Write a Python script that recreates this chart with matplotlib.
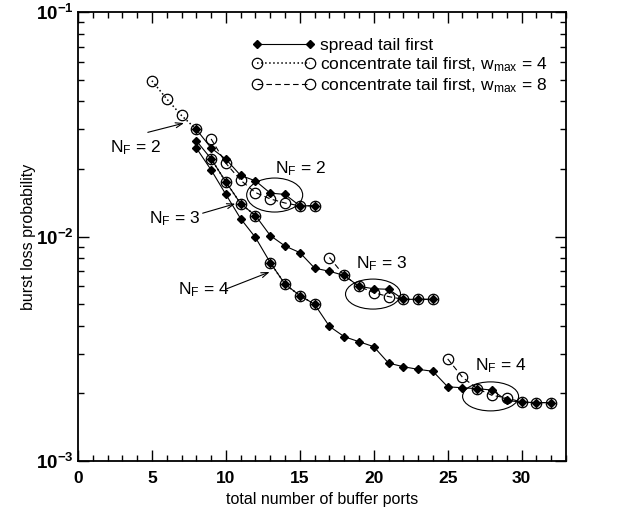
import matplotlib
matplotlib.use("Agg")
import matplotlib.pyplot as plt
import matplotlib.transforms as mtransforms
from matplotlib.patches import Ellipse
from matplotlib.ticker import MultipleLocator, LogLocator, FuncFormatter, NullFormatter
import numpy as np

plt.rcParams['font.family'] = ['Liberation Sans', 'DejaVu Sans']
plt.rcParams['mathtext.fontset'] = 'custom'
plt.rcParams['mathtext.rm'] = 'Liberation Sans'
plt.rcParams['mathtext.bf'] = 'Liberation Sans:bold'
plt.rcParams['mathtext.default'] = 'regular'

# spread tail first
spread2_x = list(range(8, 17))
spread2_y = [3.00e-2, 2.48e-2, 2.21e-2, 1.87e-2, 1.77e-2, 1.56e-2, 1.54e-2, 1.37e-2, 1.37e-2]
spread3_x = list(range(8, 25))
spread3_y = [2.67e-2, 2.22e-2, 1.75e-2, 1.40e-2, 1.24e-2, 1.01e-2, 9.07e-3, 8.48e-3, 7.23e-3,
             7.00e-3, 6.71e-3, 6.00e-3, 5.85e-3, 5.82e-3, 5.25e-3, 5.25e-3, 5.25e-3]
spread4_x = list(range(8, 33))
spread4_y = [2.48e-2, 1.98e-2, 1.54e-2, 1.20e-2, 9.90e-3, 7.65e-3, 6.13e-3, 5.46e-3, 4.99e-3,
             3.98e-3, 3.58e-3, 3.40e-3, 3.23e-3, 2.73e-3, 2.63e-3, 2.56e-3, 2.51e-3,
             2.14e-3, 2.12e-3, 2.10e-3, 2.07e-3, 1.86e-3, 1.83e-3, 1.82e-3, 1.82e-3]

# concentrate tail first, w_max = 4
w4_2_x = [5, 6, 7, 8]
w4_2_y = [4.94e-2, 4.10e-2, 3.46e-2, 3.00e-2]
w4_3_x = [9, 10, 11, 12]
w4_3_y = [2.22e-2, 1.75e-2, 1.40e-2, 1.24e-2]
w4_4_x = [13, 14, 15, 16]
w4_4_y = [7.65e-3, 6.13e-3, 5.46e-3, 4.99e-3]

# concentrate tail first, w_max = 8
w8_2_x = list(range(9, 17))
w8_2_y = [2.72e-2, 2.12e-2, 1.78e-2, 1.57e-2, 1.47e-2, 1.41e-2, 1.37e-2, 1.37e-2]
w8_3_x = list(range(17, 25))
w8_3_y = [8.06e-3, 6.71e-3, 6.00e-3, 5.62e-3, 5.40e-3, 5.25e-3, 5.25e-3, 5.25e-3]
w8_4_x = list(range(25, 33))
w8_4_y = [2.85e-3, 2.36e-3, 2.10e-3, 1.96e-3, 1.91e-3, 1.83e-3, 1.82e-3, 1.82e-3]

# N_F labels: (text, text pos, arrow tail, arrow tip)
left_labels = [
    ("2", (2.17, 2.38e-2), (4.72, 2.91e-2), (7.17, 3.20e-2)),
    ("3", (4.8, 1.14e-2), (8.43, 1.27e-2), (10.64, 1.40e-2)),
    ("4", (6.77, 5.50e-3), (10.0, 5.83e-3), (12.96, 6.95e-3)),
]
right_labels = [("2", 13.3, 1.91e-2), ("3", 18.8, 7.21e-3), ("4", 26.84, 2.54e-3)]
# ellipses: center x, center y, width px, height px
ellipses = [(13.3, 1.53e-2, 56, 34), (19.95, 5.54e-3, 55, 30), (27.9, 1.94e-3, 56, 29)]

fig = plt.figure(figsize=(6.19, 5.22), dpi=100)
ax = fig.add_axes([78/619, 1-461/522, 488/619, 449/522])

lw = 0.8
for i, (x, y) in enumerate([(spread2_x, spread2_y), (spread3_x, spread3_y), (spread4_x, spread4_y)]):
    ax.plot(x, y, '-', color='black', lw=lw, marker='D', ms=4.5, mfc='black', mec='black',
            zorder=3, label='spread tail first' if i == 0 else None)
for i, (x, y) in enumerate([(w4_2_x, w4_2_y), (w4_3_x, w4_3_y), (w4_4_x, w4_4_y)]):
    ax.plot(x, y, ':', color='black', lw=lw + 0.3, marker='o', ms=7.5, mfc='none', mec='black', mew=0.9,
            zorder=4, label='concentrate tail first, w$_{max}$ = 4' if i == 0 else None)
for i, (x, y) in enumerate([(w8_2_x, w8_2_y), (w8_3_x, w8_3_y), (w8_4_x, w8_4_y)]):
    ax.plot(x, y, '--', color='black', lw=lw, dashes=(5, 3), marker='o', ms=7.5, mfc='none', mec='black',
            mew=0.9, zorder=4, label='concentrate tail first, w$_{max}$ = 8' if i == 0 else None)

ax.set_yscale('log')
ax.set_xlim(0, 33)
ax.set_ylim(1e-3, 1e-1)

ax.xaxis.set_major_locator(MultipleLocator(5))
ax.xaxis.set_minor_locator(MultipleLocator(1))
ax.yaxis.set_major_locator(LogLocator(base=10, numticks=10))
ax.yaxis.set_minor_locator(LogLocator(base=10, subs=np.arange(2, 10), numticks=20))
ax.yaxis.set_minor_formatter(NullFormatter())
ax.yaxis.set_major_formatter(FuncFormatter(lambda v, p: r'$\mathbf{10^{%d}}$' % round(np.log10(v))))
ax.tick_params(which='both', direction='in', top=True, right=True, width=1.0)
ax.tick_params(which='major', length=8)
ax.tick_params(which='minor', length=4.5)
ax.tick_params(axis='x', which='major', labelsize=12.5, pad=7)
ax.tick_params(axis='y', which='major', labelsize=13.5, pad=3)
for lab in ax.get_xticklabels():
    lab.set_fontweight('bold')
for s in ax.spines.values():
    s.set_linewidth(1.3)

ax.set_xlabel('total number of buffer ports', fontsize=11.5)
ax.set_ylabel('burst loss probability', fontsize=11.5)
ax.xaxis.set_label_coords(0.5, -0.07)
ax.yaxis.set_label_coords(-0.086, 0.5)

for n, tpos, tail, tip in left_labels:
    ax.text(tpos[0], tpos[1], 'N$_F$ = ' + n, fontsize=12.5, ha='left', va='baseline')
    ax.annotate('', xy=tip, xytext=tail,
                arrowprops=dict(arrowstyle='->,head_length=0.5,head_width=0.18', lw=0.8,
                                color='black', shrinkA=0, shrinkB=0))
for n, x, y in right_labels:
    ax.text(x, y, 'N$_F$ = ' + n, fontsize=12.5, ha='left', va='baseline')

for cx, cy, w, h in ellipses:
    tr = fig.dpi_scale_trans + mtransforms.ScaledTranslation(cx, cy, ax.transData)
    ax.add_patch(Ellipse((0, 0), w / 100, h / 100, transform=tr, fill=False,
                         edgecolor='black', lw=0.8, zorder=2))

ax.legend(loc='upper left', bbox_to_anchor=(0.357, 0.942), frameon=False, numpoints=2,
          fontsize=12.5, handlelength=3.6, handletextpad=0.3, labelspacing=0.12, borderpad=0,
          borderaxespad=0)

fig.savefig('out.png', dpi=100)
